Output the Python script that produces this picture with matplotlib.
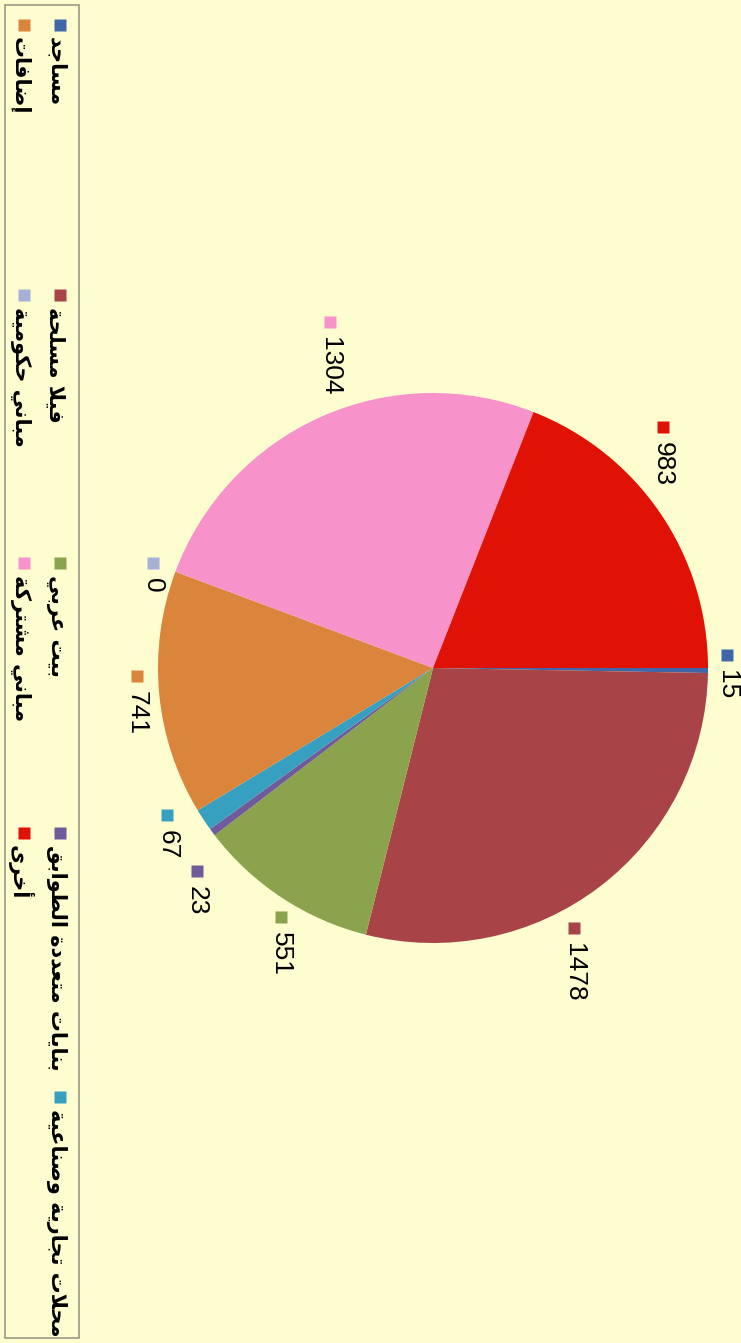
import numpy as np
import matplotlib; matplotlib.use('Agg')
import matplotlib.pyplot as plt
from matplotlib.patches import Rectangle

# data, in pie order (clockwise from the top of the un-rotated chart)
CATS = ['مساجد', 'فيلا مسلحة', 'بيت عربي', 'بنايات متعددة الطوابق',
        'محلات تجارية وصناعية', 'إضافات', 'مباني حكومية', 'مباني مشتركة', 'أخرى']
VALUES = [15, 1478, 551, 23, 67, 741, 0, 1304, 983]
COLORS = ['#3f66a8', '#a84448', '#8ca34d', '#6f5a9c', '#37a0c0',
          '#da843c', '#a7b0d6', '#f792cb', '#e01206']

# label placement (deg nudge from wedge middle, radius in px)
LBL_DA = [-3.0, 9.0, -2.0, -4.0, 4.5, 3.8, 0.0, 7.4, -12.0]
LBL_R = [294, 296, 292, 311, 304, 296, 299, 361, 333]

BG = '#fefdcf'
W, H = 741, 1343
CX, CY, R = 433, 668, 275

# --- minimal arabic shaping (presentation forms B) since mpl has no shaper
FORMS = {  # iso, fin, ini, med
    'ا': (0xFE8D, 0xFE8E), 'أ': (0xFE83, 0xFE84), 'إ': (0xFE87, 0xFE88),
    'د': (0xFEA9, 0xFEAA), 'ر': (0xFEAD, 0xFEAE), 'و': (0xFEED, 0xFEEE),
    'ة': (0xFE93, 0xFE94), 'ى': (0xFEEF, 0xFEF0),
    'ب': (0xFE8F, 0xFE90, 0xFE91, 0xFE92), 'ت': (0xFE95, 0xFE96, 0xFE97, 0xFE98),
    'ج': (0xFE9D, 0xFE9E, 0xFE9F, 0xFEA0), 'ح': (0xFEA1, 0xFEA2, 0xFEA3, 0xFEA4),
    'خ': (0xFEA5, 0xFEA6, 0xFEA7, 0xFEA8), 'س': (0xFEB1, 0xFEB2, 0xFEB3, 0xFEB4),
    'ش': (0xFEB5, 0xFEB6, 0xFEB7, 0xFEB8), 'ص': (0xFEB9, 0xFEBA, 0xFEBB, 0xFEBC),
    'ض': (0xFEBD, 0xFEBE, 0xFEBF, 0xFEC0), 'ط': (0xFEC1, 0xFEC2, 0xFEC3, 0xFEC4),
    'ع': (0xFEC9, 0xFECA, 0xFECB, 0xFECC), 'ف': (0xFED1, 0xFED2, 0xFED3, 0xFED4),
    'ق': (0xFED5, 0xFED6, 0xFED7, 0xFED8), 'ك': (0xFED9, 0xFEDA, 0xFEDB, 0xFEDC),
    'ل': (0xFEDD, 0xFEDE, 0xFEDF, 0xFEE0), 'م': (0xFEE1, 0xFEE2, 0xFEE3, 0xFEE4),
    'ن': (0xFEE5, 0xFEE6, 0xFEE7, 0xFEE8), 'ي': (0xFEF1, 0xFEF2, 0xFEF3, 0xFEF4),
}
LAMALEF = {'ا': (0xFEFB, 0xFEFC), 'أ': (0xFEF7, 0xFEF8), 'إ': (0xFEF9, 0xFEFA)}

def shape(s):
    out, i, prev_joins = [], 0, False
    while i < len(s):
        c = s[i]
        if c not in FORMS:
            out.append(c); prev_joins = False; i += 1; continue
        nxt = s[i + 1] if i + 1 < len(s) else ''
        if c == 'ل' and nxt in LAMALEF:
            out.append(chr(LAMALEF[nxt][1 if prev_joins else 0]))
            prev_joins = False; i += 2; continue
        f = FORMS[c]
        dual = len(f) == 4
        jn = dual and nxt in FORMS
        if prev_joins and jn: g = f[3]
        elif prev_joins: g = f[1]
        elif jn: g = f[2]
        else: g = f[0]
        out.append(chr(g)); prev_joins = jn; i += 1
    return ''.join(out)[::-1]

fig = plt.figure(figsize=(W / 100, H / 100), dpi=100, facecolor=BG)
ax = fig.add_axes([0, 0, 1, 1])
ax.set_facecolor(BG)

# y axis inverted -> counterclock in data = clockwise on screen, start at right
wedges, _ = ax.pie(VALUES, colors=COLORS, startangle=0, counterclock=True,
                   radius=R, center=(CX, CY), wedgeprops=dict(linewidth=0))
ax.set_xlim(0, W); ax.set_ylim(H, 0)
ax.set_aspect('equal'); ax.axis('off')

for w, v, c, da, r in zip(wedges, VALUES, COLORS, LBL_DA, LBL_R):
    a = np.deg2rad((w.theta1 + w.theta2) / 2 + da)
    x, y = CX + r * np.cos(a), CY + r * np.sin(a)
    ax.plot(x, y, 's', color=c, ms=9, mec='none')
    ax.text(x, y + 15, str(v), rotation=-90, ha='center', va='top',
            fontsize=19, family='Liberation Sans', color='black')

# legend box (left side = bottom of the un-rotated chart)
ax.add_patch(Rectangle((5, 5), 74, 1333, fill=False, ec='#9a9a86', lw=1.2))
LEG_X = [60, 24]
LEG_Y = [25, 295, 563, 833, 1097]
for i, (cat, c) in enumerate(zip(CATS, COLORS)):
    row, col = divmod(i, 5)
    x, y = LEG_X[row], LEG_Y[col]
    ax.plot(x, y, 's', color=c, ms=8, mec='none')
    ax.text(x - 4, y + 12, shape(cat), rotation=-90, ha='center', va='top',
            fontsize=15, fontweight='bold', family='DejaVu Sans', color='black')

fig.savefig('out.png', dpi=100, facecolor=BG)
